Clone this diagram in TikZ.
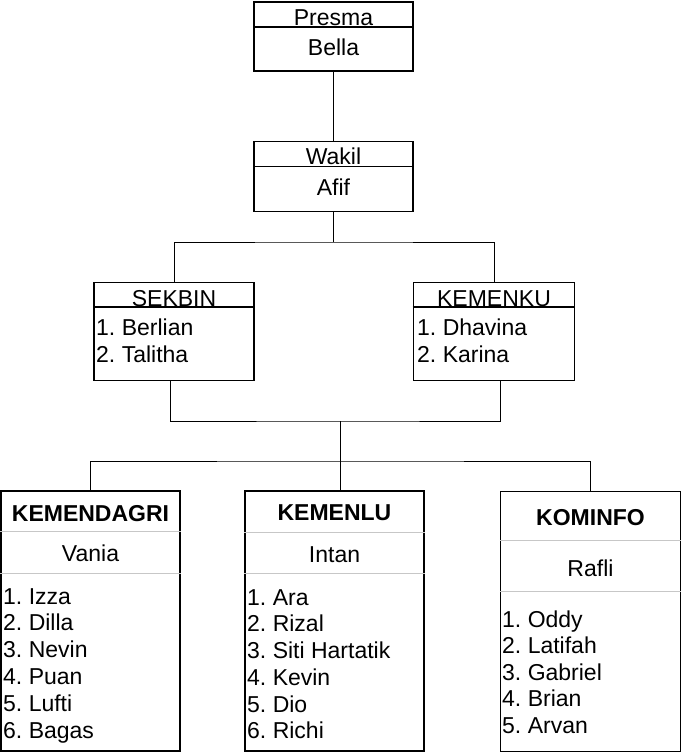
\documentclass[tikz,border=0pt]{standalone}
\usepackage{fontspec}
\setmainfont{Liberation Sans}
\usetikzlibrary{positioning,calc}
\frenchspacing

\begin{document}
\begin{tikzpicture}[x=1pt, y=-1pt,
    box/.style={draw, line width=1.8pt, inner sep=0pt},
    txt/.style={font=\fontsize{23}{27}\selectfont, inner sep=0pt, text height=16.5pt, text depth=0pt},
    head/.style={txt, font=\fontsize{23}{27}\selectfont\bfseries},
    item/.style={txt, anchor=west},
    sep/.style={line width=1.5pt},
    lite/.style={line width=0.8pt, black!22},
    link/.style={line width=0.9pt}]
  \useasboundingbox (0,0) rectangle (682,753);
  % ---------------- top: Presma and Wakil ----------------
  \node[box, minimum width=159pt, minimum height=69pt] (presma) at (333.5,36.5) {};
  \draw[sep] ([yshift=-26pt]presma.north west) -- ([yshift=-26pt]presma.north east);
  \node[txt] (presmaT) at (333.5,17) {Presma};
  \node[txt] (bella) at (333.5,47) {Bella};
  \node[box, minimum width=159pt, minimum height=70pt] (wakil) at (333.5,176.5) {};
  \draw[sep] ([yshift=-26pt]wakil.north west) -- ([yshift=-26pt]wakil.north east);
  \node[txt] (wakilT) at (333.5,156.5) {Wakil};
  \node[txt] (afif) at (333.5,187) {Afif};
  % ---------------- middle: SEKBIN and KEMENKU ----------------
  \node[box, minimum width=160pt, minimum height=98pt] (sekbin) at (174,331.5) {};
  \draw[sep] ([yshift=-25.5pt]sekbin.north west) -- ([yshift=-25.5pt]sekbin.north east);
  \node[txt] (sekbinT) at (174,298) {SEKBIN};
  \foreach \name [count=\i] in {Berlian, Talitha} {
     \node[item] (sekbin\i) at (96,{300.5+27*\i}) {\i. \name};
  }
  \node[box, minimum width=161pt, minimum height=98pt] (kemenku) at (494,331.5) {};
  \draw[sep] ([yshift=-25.5pt]kemenku.north west) -- ([yshift=-25.5pt]kemenku.north east);
  \node[txt] (kemenkuT) at (494,298) {KEMENKU};
  \foreach \name [count=\i] in {Dhavina, Karina} {
     \node[item] (kemenku\i) at (417,{300.5+27*\i}) {\i. \name};
  }
  % ---------------- bottom: three ministries ----------------
  \node[box, minimum width=179pt, minimum height=260pt] (dagri) at (90.5,621) {};
  \draw[lite] ([yshift=-41pt]dagri.north west) -- ([yshift=-41pt]dagri.north east);
  \draw[lite] ([yshift=-83pt]dagri.north west) -- ([yshift=-83pt]dagri.north east);
  \node[head] (dagriT) at (90.5,513.5) {KEMENDAGRI};
  \node[txt] (vania) at (90.5,553.5) {Vania};
  \foreach \name [count=\i] in {Izza, Dilla, Nevin, Puan, Lufti, Bagas} {
     \node[item] (dagri\i) at (3,{569+26.8*\i}) {\i. \name};
  }
  \node[box, minimum width=179pt, minimum height=260pt] (kemenlu) at (334.5,621) {};
  \draw[lite] ([yshift=-42pt]kemenlu.north west) -- ([yshift=-42pt]kemenlu.north east);
  \draw[lite] ([yshift=-83pt]kemenlu.north west) -- ([yshift=-83pt]kemenlu.north east);
  \node[head] (kemenluT) at (334.5,512) {KEMENLU};
  \node[txt] (intan) at (334.5,554.5) {Intan};
  \foreach \name [count=\i] in {Ara, Rizal, Siti Hartatik, Kevin, Dio, Richi} {
     \node[item] (kemenlu\i) at (247,{570.3+26.7*\i}) {\i. \name};
  }
  \node[box, minimum width=180pt, minimum height=260pt] (kominfo) at (590.5,621.5) {};
  \draw[lite] ([yshift=-49.5pt]kominfo.north west) -- ([yshift=-49.5pt]kominfo.north east);
  \draw[lite] ([yshift=-100.5pt]kominfo.north west) -- ([yshift=-100.5pt]kominfo.north east);
  \node[head] (kominfoT) at (590.5,517) {KOMINFO};
  \node[txt] (rafli) at (590.5,568) {Rafli};
  \foreach \name [count=\i] in {Oddy, Latifah, Gabriel, Brian, Arvan} {
     \node[item] (kominfo\i) at (502,{592.5+26.5*\i}) {\i. \name};
  }
  % ---------------- connectors ----------------
  \coordinate (j1) at (333.5,242);
  \coordinate (j2) at (340.5,421);
  \coordinate (j3) at (340.5,461);
  \draw[link] (presma) -- (wakil);
  \draw[link] (wakil) -- (j1);
  \draw[link] (sekbin.north) |- (j1) -| (kemenku.north);
  \draw[link] ([xshift=-3.5pt]sekbin.south) |- (j2) -| ([xshift=6.5pt]kemenku.south);
  \draw[link] (j2) -- (j3);
  \draw[link] (dagri.north) |- (j3) -| (kominfo.north);
  \draw[link] (j3) -- (j3 |- kemenlu.north);
\end{tikzpicture}
\end{document}
